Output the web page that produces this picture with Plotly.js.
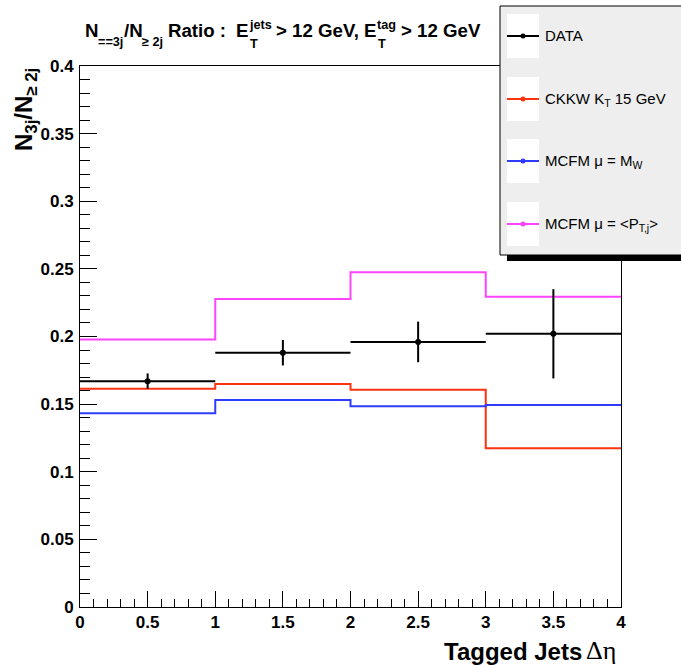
<!DOCTYPE html>
<html>
<head>
<meta charset="utf-8">
<script src="https://cdn.plot.ly/plotly-3.0.1.min.js"></script>
<style>html,body{margin:0;padding:0;background:#fff;}#chart{width:681px;height:665px;}</style>
</head>
<body>
<div id="chart"></div>
<script>
// ---- data ----
const binEdges = [0, 1, 2, 3, 4];
const binCenters = [0.5, 1.5, 2.5, 3.5];
const binHalfWidths = [0.5, 0.5, 0.5, 0.5];
const dataRatio = [0.167, 0.188, 0.196, 0.202];
const dataErr = [0.0057, 0.0094, 0.015, 0.033];
const ckkwRatio = [0.1614, 0.1649, 0.1607, 0.1173];
const mcfmMwRatio = [0.1432, 0.1531, 0.1484, 0.1494];
const mcfmPtRatio = [0.1977, 0.2277, 0.2475, 0.2294];
const legendLabels = ['DATA', 'CKKW K<sub>T</sub> 15 GeV', 'MCFM μ = M<sub>W</sub>', 'MCFM μ = &lt;P<sub>T,j</sub>&gt;'];
const seriesColors = ['#000000', '#ff3311', '#2f3cff', '#ff44ff'];
const xTickVals = [0, 0.5, 1, 1.5, 2, 2.5, 3, 3.5, 4];
const yTickVals = [0, 0.05, 0.1, 0.15, 0.2, 0.25, 0.3, 0.35, 0.4];

// ---- geometry helpers ----
const W = 681, H = 665;
const M = {l: 80, r: 60, t: 66, b: 58};
const PW = W - M.l - M.r, PH = H - M.t - M.b;
const xp = px => (px - M.l) / PW;
const yp = py => (H - M.b - py) / PH;

function stepY(vals) { return vals.concat([vals[vals.length - 1]]); }

const SANS = 'Liberation Sans, Arial, Helvetica, sans-serif';
const SERIF = 'Liberation Serif, Times New Roman, serif';

const traces = [
  {x: binEdges, y: stepY(mcfmPtRatio), mode: 'lines', line: {shape: 'hv', color: seriesColors[3], width: 2}, hoverinfo: 'skip'},
  {x: binEdges, y: stepY(ckkwRatio), mode: 'lines', line: {shape: 'hv', color: seriesColors[1], width: 2}, hoverinfo: 'skip'},
  {x: binEdges, y: stepY(mcfmMwRatio), mode: 'lines', line: {shape: 'hv', color: seriesColors[2], width: 2}, hoverinfo: 'skip'},
  {x: binCenters, y: dataRatio, mode: 'markers', marker: {color: '#000', size: 6},
   error_x: {type: 'data', array: binHalfWidths, symmetric: true, width: 0, thickness: 2, color: '#000'},
   error_y: {type: 'data', array: dataErr, symmetric: true, width: 0, thickness: 2, color: '#000'},
   hoverinfo: 'skip'}
];

// ---- legend (drawn manually) ----
const shapes = [];
const annotations = [];
shapes.push({type: 'rect', xref: 'paper', yref: 'paper', x0: xp(507), x1: xp(700), y0: yp(261), y1: yp(255), fillcolor: '#000', line: {width: 0}, layer: 'above'});
shapes.push({type: 'rect', xref: 'paper', yref: 'paper', x0: xp(500), x1: xp(700), y0: yp(255), y1: yp(6), fillcolor: '#eeeeee', line: {color: '#000', width: 1}, layer: 'above'});
const entryCenters = [36, 99, 161, 224];
entryCenters.forEach((cy, i) => {
  shapes.push({type: 'rect', xref: 'paper', yref: 'paper', x0: xp(507), x1: xp(539), y0: yp(cy + 22), y1: yp(cy - 22), fillcolor: '#ffffff', line: {width: 0}, layer: 'above'});
  shapes.push({type: 'line', xref: 'paper', yref: 'paper', x0: xp(507), x1: xp(539), y0: yp(cy), y1: yp(cy), line: {color: seriesColors[i], width: 2}, layer: 'above'});
  shapes.push({type: 'circle', xref: 'paper', yref: 'paper', x0: xp(520.5), x1: xp(525.5), y0: yp(cy + 2.5), y1: yp(cy - 2.5), fillcolor: seriesColors[i], line: {width: 0}, layer: 'above'});
  annotations.push({xref: 'paper', yref: 'paper', x: xp(543), y: yp(cy), xanchor: 'left', yanchor: 'middle', showarrow: false,
    text: legendLabels[i], font: {family: SANS, size: 15, color: '#000'}});
});

function ann(text, px, py, xanchor, size, opts) {
  return Object.assign({xref: 'paper', yref: 'paper', x: xp(px), y: yp(py), xanchor: xanchor, yanchor: 'middle', showarrow: false,
    borderpad: 0, borderwidth: 0,
    text: text, font: {family: SANS, size: size, color: '#000', weight: 'bold'}}, opts || {});
}

// ---- title pieces, flowed with measured text widths ----
const ctx = document.createElement('canvas').getContext('2d');
function tw(str, size) { ctx.font = 'bold ' + size + 'px "Liberation Sans", Arial, sans-serif'; return ctx.measureText(str).width; }
// kind: m = main, b = subscript (lower), s = stacked sup/sub
const titlePieces = [
  {k: 'm', t: 'N'}, {k: 'b', t: '==3j'}, {k: 'm', t: '/N'}, {k: 'b', t: '≥ 2j'},
  {k: 'g', t: ' '}, {k: 'm', t: 'Ratio :'}, {k: 'g', t: '  '}, {k: 'm', t: 'E'}, {k: 's', sup: 'jets', sub: 'T'},
  {k: 'g', t: ' '}, {k: 'm', t: '> 12 GeV, E'}, {k: 's', sup: 'tag', sub: 'T'},
  {k: 'g', t: ' '}, {k: 'm', t: '> 12 GeV'}
];
function layoutTitle(S) {
  const sub = S * 0.68, sup = S * 0.68;
  let x = 0; const out = [];
  titlePieces.forEach(p => {
    if (p.k === 'm') { out.push({t: p.t, x: x, size: S, y: 30}); x += tw(p.t, S); }
    else if (p.k === 'g') { x += tw(p.t, S) * 0.9; }
    else if (p.k === 'b') { out.push({t: p.t, x: x, size: sub, y: 42}); x += tw(p.t, sub); }
    else { out.push({t: p.sup, x: x + 1, size: sup, y: 25}); out.push({t: p.sub, x: x + 2, size: sub, y: 44});
           x += Math.max(tw(p.sup, sup), tw(p.sub, sub)) + 1; }
  });
  return {items: out, width: x};
}
const startX = 85, endX = 480;
let S = 20;
const w0 = layoutTitle(S).width;
S = S * (endX - startX) / w0;
layoutTitle(S).items.forEach(it => {
  annotations.push(ann(it.t.replace(/</g, '&lt;').replace(/>/g, '&gt;'), startX + it.x, it.y, 'left', it.size));
});

// axis titles
annotations.push(ann('Tagged Jets', 582, 651, 'right', 24));
annotations.push({xref: 'paper', yref: 'paper', x: xp(585), y: yp(650), xanchor: 'left', yanchor: 'middle', showarrow: false,
  borderpad: 0, text: 'Δη', font: {family: SERIF, size: 26, color: '#000'}});
annotations.push(Object.assign(ann('N<sub>3j</sub>/N<sub>≥ 2j</sub>', 25, 110, 'center', 24), {textangle: -90}));

const axisCommon = {
  showgrid: false, zeroline: false, showline: true, linecolor: '#000', linewidth: 1, mirror: true,
  ticks: 'inside', tickcolor: '#000', tickwidth: 1,
  tickfont: {family: SANS, size: 17, color: '#000', weight: 'bold'},
  tickmode: 'array'
};

const layout = {
  width: W, height: H, margin: M,
  paper_bgcolor: '#fff', plot_bgcolor: '#fff', showlegend: false,
  xaxis: Object.assign({}, axisCommon, {range: [0, 4], tickvals: xTickVals, ticktext: xTickVals.map(String), ticklen: 16,
    minor: {dtick: 0.1, tick0: 0, ticks: 'inside', ticklen: 8, tickcolor: '#000', tickwidth: 1}}),
  yaxis: Object.assign({}, axisCommon, {range: [0, 0.4], tickvals: yTickVals, ticktext: yTickVals.map(String), ticklen: 17,
    ticklabelstandoff: 2,
    minor: {dtick: 0.01, tick0: 0, ticks: 'inside', ticklen: 10, tickcolor: '#000', tickwidth: 1}}),
  shapes: shapes,
  annotations: annotations
};

Plotly.newPlot('chart', traces, layout, {staticPlot: true, displayModeBar: false});
</script>
</body>
</html>
